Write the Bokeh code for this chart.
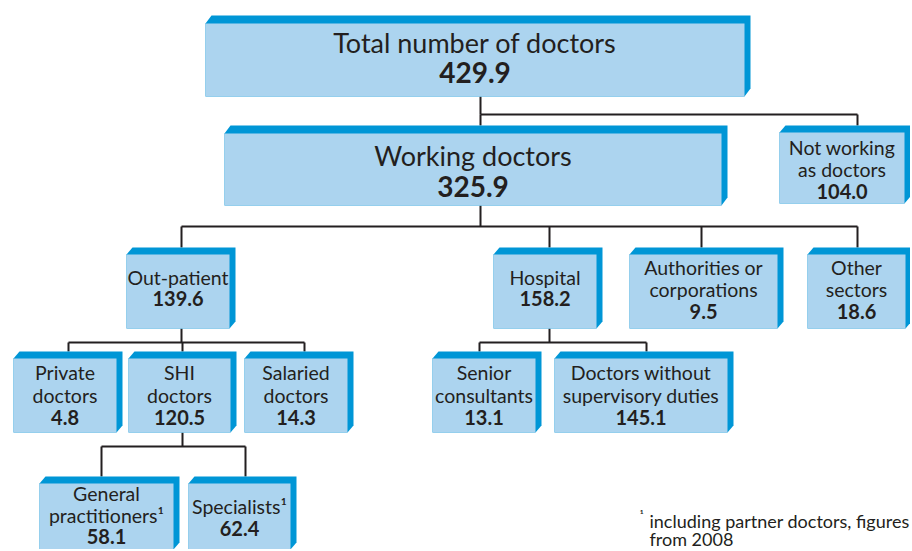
from bokeh.plotting import figure
from bokeh.models import Range1d, ColumnDataSource
from bokeh.core.properties import value
from bokeh.embed import file_html
from bokeh.resources import INLINE

# ---------------- data ----------------
node_keys = ["total", "working", "notworking", "outpatient", "hospital",
             "authorities", "other", "private", "shi", "salaried",
             "senior", "nosuper", "gp", "specialists"]
node_labels = [
    ["Total number of doctors"],
    ["Working doctors"],
    ["Not working", "as doctors"],
    ["Out-patient"],
    ["Hospital"],
    ["Authorities or", "corporations"],
    ["Other", "sectors"],
    ["Private", "doctors"],
    ["SHI", "doctors"],
    ["Salaried", "doctors"],
    ["Senior", "consultants"],
    ["Doctors without", "supervisory duties"],
    ["General", "practitioners\u00b9"],
    ["Specialists\u00b9"],
]
node_values = [429.9, 325.9, 104.0, 139.6, 158.2, 9.5, 18.6,
               4.8, 120.5, 14.3, 13.1, 145.1, 58.1, 62.4]
tree_parents = ["total", "working", "outpatient", "shi", "hospital"]
tree_children = [["working", "notworking"],
                 ["outpatient", "hospital", "authorities", "other"],
                 ["private", "shi", "salaried"],
                 ["gp", "specialists"],
                 ["senior", "nosuper"]]
footnote_mark = "\u00b9"
footnote_lines = ["including partner doctors, figures", "from 2008"]

# ---------------- layout (pixel positions) ----------------
# key: (left, top, right, bottom, first text line y, line spacing, big, connector x)
layout = {
    "total":       (205, 23, 744, 96, 42, 30, True, 480),
    "working":     (224, 133, 721, 205, 155, 31, True, 480),
    "notworking":  (779, 132, 904, 203, 147, 22, False, 857),
    "outpatient":  (126, 254, 229, 328, 277, 21, False, 181),
    "hospital":    (493, 254, 596, 328, 277, 21, False, 549),
    "authorities": (629, 254, 777, 328, 267, 22, False, 701),
    "other":       (807, 254, 905, 328, 267, 22, False, 857),
    "private":     (13, 358, 116, 432, 372, 22.5, False, 68),
    "shi":         (128, 358, 230, 432, 372, 22.5, False, 182),
    "salaried":    (244, 358, 347, 432, 372, 22.5, False, 304),
    "senior":      (432, 358, 535, 432, 372, 22.5, False, 479),
    "nosuper":     (554, 358, 727, 432, 372, 22.5, False, 646),
    "gp":          (39, 483, 173, 549, 493, 21.5, False, 101),
    "specialists": (188, 483, 290, 549, 506, 22, False, 245),
}
bus_y = {"total": 114, "working": 226, "outpatient": 342, "shi": 446, "hospital": 342}
DX, DY = 6, 7
DY_BIG = 8
FS_BIG, FS_BIG_NUM = "27px", "28px"
FS_SMALL, FS_SMALL_NUM = "19.5px", "20px"

FACE = "#acd4ef"
EDGE = "#0096d6"
INK = "#231f20"
FONT = "Lato"

W, H = 910, 549
p = figure(width=W, height=H, output_backend="svg", toolbar_location=None,
           x_range=Range1d(0, W), y_range=Range1d(H, 0),
           min_border=0, border_fill_color="white", background_fill_color="white")
p.axis.visible = False
p.grid.visible = False
p.outline_line_color = None

def depth(k):
    return DY_BIG if layout[k][6] else DY

# connectors
lx, ly = [], []
for par, kids in zip(tree_parents, tree_children):
    pl = layout[par]
    by = bus_y[par]
    ax = pl[7]
    lx.append([ax, ax]); ly.append([pl[3], by])
    xs_all = [ax] + [layout[c][7] for c in kids]
    lx.append([min(xs_all), max(xs_all)]); ly.append([by, by])
    for c in kids:
        cl = layout[c]
        lx.append([cl[7], cl[7]]); ly.append([by, cl[1] - depth(c)])
p.multi_line(lx, ly, line_color=INK, line_width=2)

# boxes
ex, ey, fl, ft, fr, fb = [], [], [], [], [], []
for k in node_keys:
    l, t, r, b = layout[k][:4]
    dy = depth(k)
    ex.append([l, l + DX, r + DX, r + DX, r, l])
    ey.append([t, t - dy, t - dy, b - dy, b, b])
    fl.append(l); ft.append(t); fr.append(r); fb.append(b)
p.patches(ex, ey, fill_color=EDGE, line_color=None)
p.quad(left=fl, right=fr, top=ft, bottom=fb, fill_color=FACE, line_color=None)

# texts
tx, ty, tt, tsz, tfs = [], [], [], [], []
for k, labels, v in zip(node_keys, node_labels, node_values):
    l, t, r, b, y0, sp, big, ax = layout[k]
    cx = (l + r) / 2
    lines = labels + [f"{v:.1f}"]
    for i, s in enumerate(lines):
        last = i == len(lines) - 1
        tx.append(cx); ty.append(y0 + i * sp); tt.append(s)
        if big:
            tsz.append(FS_BIG_NUM if last else FS_BIG)
        else:
            tsz.append(FS_SMALL_NUM if last else FS_SMALL)
        tfs.append("bold" if last else "normal")
src = ColumnDataSource(dict(x=tx, y=ty, text=tt, size=tsz, style=tfs))
p.text(x="x", y="y", text="text", source=src, text_font=value(FONT),
       text_font_size="size", text_font_style="style", text_color=INK,
       text_align="center", text_baseline="middle")

# footnote
p.text(x=[639], y=[514], text=[footnote_mark], text_font=value(FONT),
       text_font_size=value("13px"), text_color=INK, text_align="left",
       text_baseline="middle")
p.text(x=[649, 649], y=[520, 538], text=footnote_lines, text_font=value(FONT),
       text_font_size=value("18px"), text_color=INK, text_align="left",
       text_baseline="middle")

open("out.html", "w").write(file_html(p, INLINE))
